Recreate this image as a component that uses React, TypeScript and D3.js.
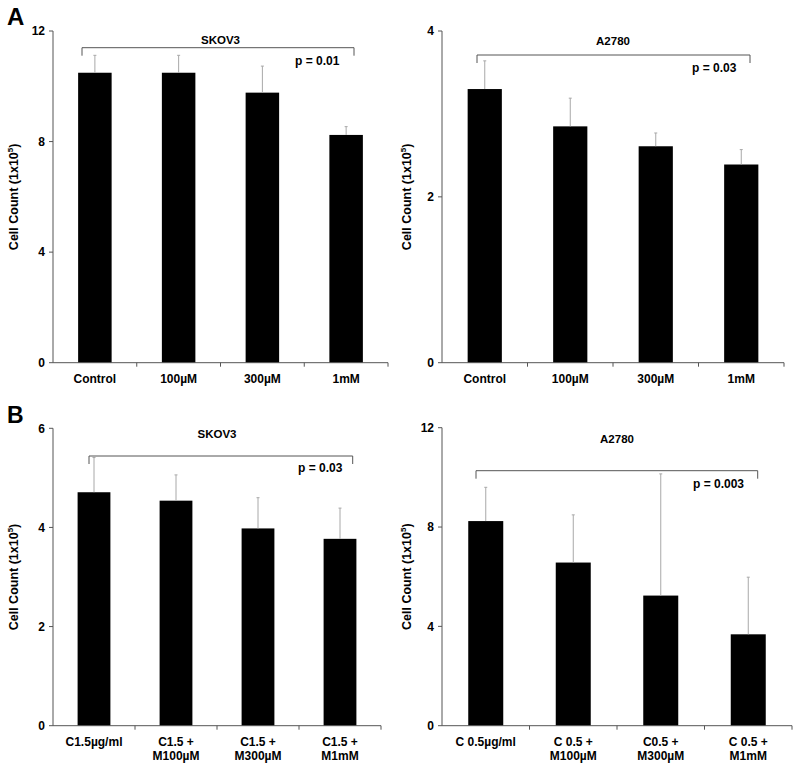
import React from "react";
import * as d3 from "d3";

// ---------- DATA ----------
const aCategories: string[][] = [["Control"], ["100µM"], ["300µM"], ["1mM"]];
const bSkovCategories: string[][] = [["C1.5µg/ml"], ["C1.5 +", "M100µM"], ["C1.5 +", "M300µM"], ["C1.5 +", "M1mM"]];
const bA2780Categories: string[][] = [["C 0.5µg/ml"], ["C 0.5 +", "M100µM"], ["C0.5 +", "M300µM"], ["C 0.5 +", "M1mM"]];

const aSkovValues = [10.49, 10.49, 9.77, 8.24];
const aSkovErrors = [0.63, 0.63, 0.96, 0.3];
const aA2780Values = [3.3, 2.85, 2.61, 2.39];
const aA2780Errors = [0.34, 0.34, 0.16, 0.18];
const bSkovValues = [4.71, 4.54, 3.98, 3.77];
const bSkovErrors = [0.7, 0.52, 0.62, 0.62];
const bA2780Values = [8.24, 6.57, 5.24, 3.68];
const bA2780Errors = [1.36, 1.92, 4.9, 2.3];

const aSkovTicks = [0, 4, 8, 12];
const aA2780Ticks = [0, 2, 4];
const bSkovTicks = [0, 2, 4, 6];
const bA2780Ticks = [0, 4, 8, 12];

const yTitleMain = "Cell Count (1x10";
const yTitleSup = "5";

// ---------- LAYOUT ----------
type PanelDef = {
  title: string;
  pText: string;
  categories: string[][];
  values: number[];
  errors: number[];
  ticks: number[];
  x0: number; x1: number; yTop: number; yBottom: number;
  bracketX1: number; bracketX2: number; bracketY: number; bracketDrop: number;
  titleY: number; pX: number; pY: number; yTitleX: number;
};

const panels: PanelDef[] = [
  {
    title: "SKOV3", pText: "p = 0.01", categories: aCategories, values: aSkovValues, errors: aSkovErrors, ticks: aSkovTicks,
    x0: 53, x1: 388, yTop: 31, yBottom: 362.7,
    bracketX1: 82, bracketX2: 354, bracketY: 47.7, bracketDrop: 8,
    titleY: 44, pX: 295, pY: 65, yTitleX: 18,
  },
  {
    title: "A2780", pText: "p = 0.03", categories: aCategories, values: aA2780Values, errors: aA2780Errors, ticks: aA2780Ticks,
    x0: 442, x1: 784, yTop: 31, yBottom: 362.7,
    bracketX1: 477, bracketX2: 750, bracketY: 55, bracketDrop: 8,
    titleY: 45, pX: 692, pY: 72, yTitleX: 411,
  },
  {
    title: "SKOV3", pText: "p = 0.03", categories: bSkovCategories, values: bSkovValues, errors: bSkovErrors, ticks: bSkovTicks,
    x0: 53, x1: 381, yTop: 428.3, yBottom: 725.7,
    bracketX1: 89, bracketX2: 352.7, bracketY: 456, bracketDrop: 8,
    titleY: 438, pX: 298, pY: 472, yTitleX: 18,
  },
  {
    title: "A2780", pText: "p = 0.003", categories: bA2780Categories, values: bA2780Values, errors: bA2780Errors, ticks: bA2780Ticks,
    x0: 442, x1: 792, yTop: 427.7, yBottom: 725.7,
    bracketX1: 476, bracketX2: 757.7, bracketY: 470.7, bracketDrop: 8,
    titleY: 443, pX: 693, pY: 488, yTitleX: 411,
  },
];

const FONT = "'Liberation Sans', Arial, Helvetica, sans-serif";
const AXIS = "#555";
const ERR = "#a8a8a8";

function Panel({ p }: { p: PanelDef }) {
  const keys = p.categories.map((c) => c.join(" "));
  const x = d3.scaleBand<string>().domain(keys).range([p.x0, p.x1]).paddingInner(0.6).paddingOuter(0.3);
  const yMax = p.ticks[p.ticks.length - 1];
  const y = d3.scaleLinear().domain([0, yMax]).range([p.yBottom, p.yTop]);
  const step = x.step();
  const boundaries = keys.map((k) => (x(k) as number) + x.bandwidth() / 2 + step / 2);
  const cx = (p.x0 + p.x1) / 2;
  const cy = (p.yTop + p.yBottom) / 2;
  return (
    <g fontFamily={FONT} fontWeight="bold">
      {/* bars */}
      {keys.map((k, i) => (
        <rect key={k} x={x(k)} y={y(p.values[i])} width={x.bandwidth()} height={y(0) - y(p.values[i])} fill="#000" />
      ))}
      {/* error bars */}
      {keys.map((k, i) => {
        const xc = (x(k) as number) + x.bandwidth() / 2;
        const top = y(p.values[i] + p.errors[i]);
        return (
          <g key={"e" + k} stroke={ERR} strokeWidth={1}>
            <line x1={xc} x2={xc} y1={y(p.values[i])} y2={top} />
            <line x1={xc - 1.5} x2={xc + 1.5} y1={top} y2={top} />
          </g>
        );
      })}
      {/* y axis */}
      <line x1={p.x0} x2={p.x0} y1={p.yTop} y2={p.yBottom} stroke={AXIS} strokeWidth={1} />
      {p.ticks.map((t) => (
        <g key={"t" + t}>
          <line x1={p.x0 - 4} x2={p.x0} y1={y(t)} y2={y(t)} stroke={AXIS} strokeWidth={1} />
          <text x={p.x0 - 8} y={y(t)} dy="0.35em" textAnchor="end" fontSize={12} fill="#000">{t}</text>
        </g>
      ))}
      {/* x axis */}
      <line x1={p.x0} x2={p.x1} y1={p.yBottom} y2={p.yBottom} stroke={AXIS} strokeWidth={1} />
      {boundaries.map((b, i) => (
        <line key={"b" + i} x1={b} x2={b} y1={p.yBottom} y2={p.yBottom + 4} stroke={AXIS} strokeWidth={1} />
      ))}
      {p.categories.map((lines, i) => {
        const xc = (x(keys[i]) as number) + x.bandwidth() / 2;
        return (
          <text key={"c" + i} x={xc} y={p.yBottom + 20} textAnchor="middle" fontSize={12} fill="#000">
            {lines.map((l, j) => (
              <tspan key={j} x={xc} dy={j === 0 ? 0 : 14.5}>{l}</tspan>
            ))}
          </text>
        );
      })}
      {/* y title */}
      <text transform={`translate(${p.yTitleX},${cy}) rotate(-90)`} textAnchor="middle" fontSize={12.5} fill="#000">
        {yTitleMain}
        <tspan fontSize={8} dy={-5}>{yTitleSup}</tspan>
        <tspan dy={5}>)</tspan>
      </text>
      {/* bracket */}
      <path
        d={`M${p.bracketX1},${p.bracketY + p.bracketDrop}V${p.bracketY}H${p.bracketX2}V${p.bracketY + p.bracketDrop}`}
        fill="none" stroke={AXIS} strokeWidth={1}
      />
      <text x={cx} y={p.titleY} textAnchor="middle" fontSize={11.5} fill="#000">{p.title}</text>
      <text x={p.pX} y={p.pY} fontSize={12} fill="#000">{p.pText}</text>
    </g>
  );
}

export default function App() {
  return (
    <div style={{ position: "absolute", left: 0, top: 0 }}>
      <svg width={800} height={767} viewBox="0 0 800 767" style={{ display: "block", background: "#fff" }}>
        <rect width={800} height={767} fill="#fff" />
        <text x={7} y={25} fontFamily={FONT} fontWeight="bold" fontSize={24} fill="#000">A</text>
        <text x={7} y={423} fontFamily={FONT} fontWeight="bold" fontSize={23} fill="#000">B</text>
        {panels.map((p, i) => (
          <Panel key={i} p={p} />
        ))}
      </svg>
    </div>
  );
}
